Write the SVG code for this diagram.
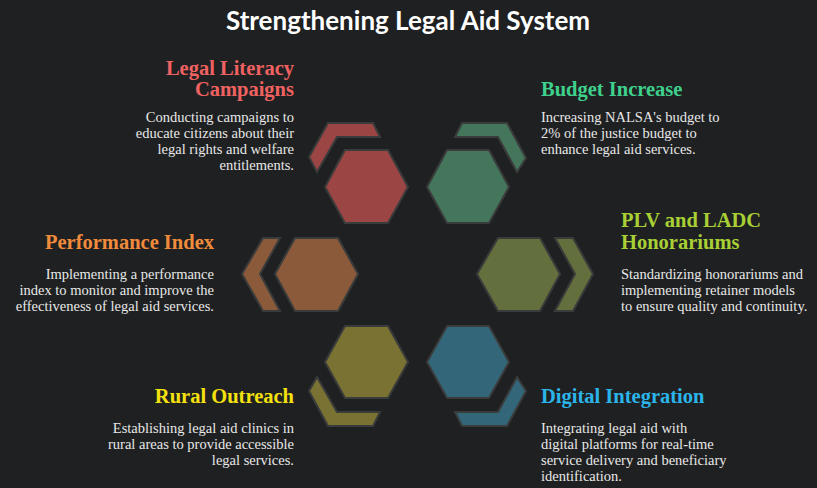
<svg xmlns="http://www.w3.org/2000/svg" width="817" height="488" viewBox="0 0 817 488">
<style>
.bg{fill:#1f2021}
.h{stroke:#3a3b3b;stroke-width:2}
.t{font-family:"Liberation Serif",serif;font-weight:bold;font-size:20.5px}
.b{font-family:"Liberation Serif",serif;font-size:14.5px;fill:#e8e8e8}
.title{font-family:"Lato",sans-serif;font-weight:bold;font-size:26px;fill:#fff}
.r{text-anchor:end}
</style>
<rect class="bg" width="817" height="488"/>
<text class="title" x="408" y="30" text-anchor="middle">Strengthening Legal Aid System</text>
<g id="connectors"></g>
<g id="legal-literacy">
<polygon class="h" fill="#9b4544" points="325,187 345,150 388,150 408,187 388,223 345,223"/>
<polygon class="h" fill="#9b4544" points="328,123 373,123 380,137 337,137 317,172 309,157"/>
<text class="t r" x="294" y="75" fill="#f06262">Legal Literacy</text>
<text class="t r" x="294" y="96" fill="#f06262">Campaigns</text>
<text class="b r" x="294" y="122">Conducting campaigns to</text>
<text class="b r" x="294" y="138">educate citizens about their</text>
<text class="b r" x="294" y="154">legal rights and welfare</text>
<text class="b r" x="294" y="170">entitlements.</text>
</g>
<g id="budget">
<polygon class="h" fill="#44765c" points="427,187 447,150 489,150 509,187 489,223 447,223"/>
<polygon class="h" fill="#44765c" points="455,137 462,123 507,123 526,158 517,172 498,137"/>
<text class="t" x="541" y="96" fill="#3ed08c">Budget Increase</text>
<text class="b" x="541" y="122">Increasing NALSA's budget to</text>
<text class="b" x="541" y="138">2% of the justice budget to</text>
<text class="b" x="541" y="154">enhance legal aid services.</text>
</g>
<g id="performance">
<polygon class="h" fill="#8a5a3a" points="275,274 295,238 338,238 358,274 338,311 295,311"/>
<polygon class="h" fill="#8a5a3a" points="280,238 260,274 280,311 263,311 242,274 263,238"/>
<text class="t r" x="214" y="249" fill="#f08b3c">Performance Index</text>
<text class="b r" x="214" y="279">Implementing a performance</text>
<text class="b r" x="214" y="295">index to monitor and improve the</text>
<text class="b r" x="214" y="311">effectiveness of legal aid services.</text>
</g>
<g id="plv">
<polygon class="h" fill="#636f3d" points="477,274 498,238 540,238 560,274 540,311 498,311"/>
<polygon class="h" fill="#636f3d" points="555,238 575,274 555,311 573,311 593,274 573,238"/>
<text class="t" x="621" y="227" fill="#a8d035">PLV and LADC</text>
<text class="t" x="621" y="249" fill="#a8d035">Honorariums</text>
<text class="b" x="621" y="279">Standardizing honorariums and</text>
<text class="b" x="621" y="295">implementing retainer models</text>
<text class="b" x="621" y="311">to ensure quality and continuity.</text>
</g>
<g id="rural">
<polygon class="h" fill="#7a7233" points="325,362 345,326 388,326 408,362 388,398 345,398"/>
<polygon class="h" fill="#7a7233" points="309,391 317,377 337,412 380,412 373,426 328,426"/>
<text class="t r" x="294" y="403" fill="#f5e10e">Rural Outreach</text>
<text class="b r" x="294" y="433">Establishing legal aid clinics in</text>
<text class="b r" x="294" y="449">rural areas to provide accessible</text>
<text class="b r" x="294" y="465">legal services.</text>
</g>
<g id="digital">
<polygon class="h" fill="#34667a" points="427,362 447,326 489,326 509,362 489,398 447,398"/>
<polygon class="h" fill="#34667a" points="517,377 526,391 507,426 462,426 455,412 498,412"/>
<text class="t" x="541" y="403" fill="#2bb5ea">Digital Integration</text>
<text class="b" x="541" y="433">Integrating legal aid with</text>
<text class="b" x="541" y="449">digital platforms for real-time</text>
<text class="b" x="541" y="465">service delivery and beneficiary</text>
<text class="b" x="541" y="481">identification.</text>
</g>
</svg>
